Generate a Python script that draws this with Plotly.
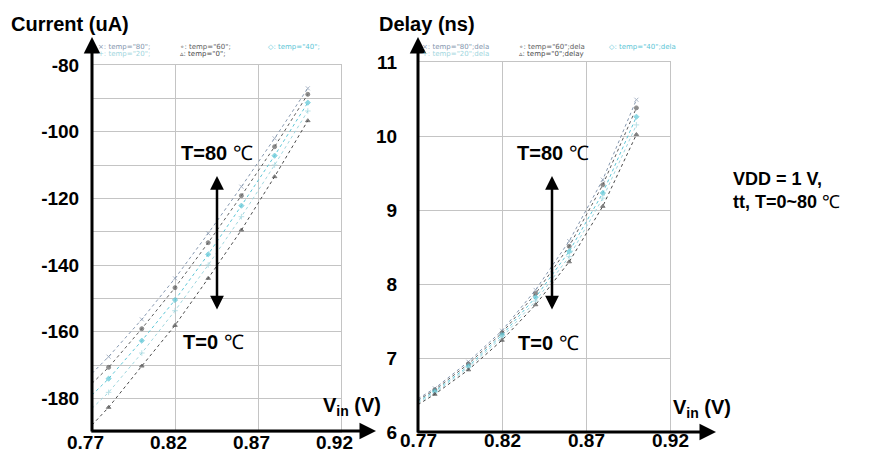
import plotly.graph_objects as go

# page body has an 8px margin; figure is offset by it inside the 872x455 window
OFF = 8
W, H = 872 - 2 * OFF, 455 - OFF

# ---- data ----
vin = [0.77, 0.78, 0.80, 0.82, 0.84, 0.86, 0.88, 0.90]
temps = ["80", "60", "40", "20", "0"]
current_80 = [-172.5, -167.5, -156.3, -144.0, -130.5, -116.5, -102.0, -87.0]
current_60 = [-175.5, -170.7, -159.1, -146.8, -133.3, -119.2, -104.5, -88.8]
current_40 = [-179.0, -174.1, -162.7, -150.5, -136.8, -122.2, -107.2, -91.3]
current_20 = [-183.0, -178.2, -166.4, -153.7, -140.0, -125.5, -110.0, -93.8]
current_0 = [-188.0, -182.7, -170.3, -158.1, -144.0, -129.5, -113.5, -96.7]
delay_80 = [6.45, 6.59, 6.95, 7.37, 7.92, 8.58, 9.41, 10.49]
delay_60 = [6.43, 6.57, 6.92, 7.34, 7.87, 8.51, 9.34, 10.38]
delay_40 = [6.41, 6.55, 6.89, 7.31, 7.82, 8.44, 9.23, 10.26]
delay_20 = [6.39, 6.53, 6.87, 7.28, 7.77, 8.37, 9.16, 10.15]
delay_0 = [6.37, 6.51, 6.84, 7.24, 7.72, 8.30, 9.05, 10.02]
x_ticks = [0.77, 0.82, 0.87, 0.92]
x_ticktext = ["0.77", "0.82", "0.87", "0.92"]
current_ticks = [-180, -160, -140, -120, -100, -80]
current_ticktext = ["-180", "-160", "-140", "-120", "-100", "-80"]
delay_ticks = [6, 7, 8, 9, 10, 11]
delay_ticktext = ["6", "7", "8", "9", "10", "11"]

currents = [current_80, current_60, current_40, current_20, current_0]
delays = [delay_80, delay_60, delay_40, delay_20, delay_0]
colors = ["#8496ae", "#5e5e5e", "#5cc6d6", "#9fd6de", "#4a4a4a"]
symbols = ["x-thin", "circle", "diamond", "cross-thin", "triangle-up"]

FONT = "Liberation Sans"


def px(x):
    return (x - OFF) / W


def py(y):
    return 1 - (y - OFF) / H


fig = go.Figure()
msize = [0] + [4] * (len(vin) - 1)
for t, cur, dl, c, s in zip(temps, currents, delays, colors, symbols):
    fig.add_trace(go.Scatter(
        x=vin, y=cur, xaxis="x", yaxis="y", mode="lines+markers",
        name=f'temp="{t}"', showlegend=False,
        line=dict(color=c, width=1, dash="dot"),
        marker=dict(color=c, size=msize, symbol=s, line=dict(color=c, width=1)),
    ))
    fig.add_trace(go.Scatter(
        x=vin, y=dl, xaxis="x2", yaxis="y2", mode="lines+markers",
        name=f'temp="{t}";delay', showlegend=False,
        line=dict(color=c, width=1, dash="dot"),
        marker=dict(color=c, size=msize, symbol=s, line=dict(color=c, width=1)),
    ))

grid = "#c4c4c4"
tickfont = dict(family=FONT, size=19, color="black", weight="bold")

common_x = dict(
    range=[0.77, 0.92], tickvals=x_ticks, ticktext=x_ticktext,
    showgrid=True, gridcolor=grid, gridwidth=1, zeroline=False,
    showline=True, mirror=True, linecolor=grid, linewidth=1,
    ticks="", showticklabels=False, automargin=False,
)

fig.update_layout(
    width=W, height=H,
    margin=dict(l=0, r=0, t=0, b=0),
    paper_bgcolor="white", plot_bgcolor="white",
    showlegend=False,
    xaxis=dict(domain=[px(92), px(341)], anchor="y", **common_x),
    yaxis=dict(domain=[py(431.7), py(65)], anchor="x", range=[-190, -80],
               tickvals=current_ticks, ticktext=current_ticktext,
               showgrid=True, gridcolor=grid, automargin=False,
               zeroline=False, showline=True, mirror=True, linecolor=grid,
               ticks="", tickfont=tickfont, ticklabelstandoff=8,
               minor=dict(dtick=10, tick0=-80, showgrid=True, gridcolor=grid, ticks="")),
    xaxis2=dict(domain=[px(418), px(670)], anchor="y2", **common_x),
    yaxis2=dict(domain=[py(432), py(62)], anchor="x2", range=[6, 11],
                tickvals=delay_ticks, ticktext=delay_ticktext,
                showgrid=True, gridcolor=grid, automargin=False,
                zeroline=False, showline=True, mirror=True, linecolor=grid,
                ticks="", tickfont=tickfont, ticklabelstandoff=16, ticklabelshift=0),
)

ann = []

# x tick labels placed on the x axes' own scales
for xref, ycen, shift in (("x", 442, -7), ("x2", 440, 0)):
    for v, txt in zip(x_ticks, x_ticktext):
        ann.append(dict(
            xref=xref, yref="paper", x=v, y=py(ycen), text=f"<b>{txt}</b>",
            showarrow=False, xanchor="center", yanchor="middle", xshift=shift,
            font=dict(family=FONT, size=19, color="black"),
        ))


def arrow(x_tip, y_tip, x_tail, y_tail, width=3, side="end"):
    ann.append(dict(
        xref="paper", yref="paper", x=px(x_tip), y=py(y_tip),
        axref="pixel", ayref="pixel", ax=x_tail - x_tip, ay=y_tail - y_tip,
        text="", showarrow=True, arrowhead=2, arrowsize=1.1,
        arrowwidth=width, arrowcolor="black", arrowside=side,
    ))


# axes with arrows
arrow(92, 37, 92, 433)
arrow(376, 431, 90, 431)
arrow(418, 37, 418, 434)
arrow(716, 432, 416, 432)
# temperature arrows
arrow(217, 176, 217, 311, width=2.5, side="end+start")
arrow(552, 176, 552, 311, width=2.5, side="end+start")


def label(text, x, y, size=20, xanchor="center", color="black", family=FONT):
    ann.append(dict(
        xref="paper", yref="paper", x=px(x), y=py(y), text=text,
        showarrow=False, xanchor=xanchor, yanchor="middle",
        font=dict(family=family, size=size, color=color), align="left",
    ))


label("<b>Current (uA)</b>", 9, 24, size=20, xanchor="left")
label("<b>Delay (ns)</b>", 377, 24, size=20, xanchor="left")
label("<b>V<sub>in</sub> (V)</b>", 321, 406, size=20, xanchor="left")
label("<b>V<sub>in</sub> (V)</b>", 671, 408, size=20, xanchor="left")
label("<b>T=80</b> ℃", 217, 153, size=20)
label("<b>T=0</b> ℃", 213, 342, size=20)
label("<b>T=80</b> ℃", 553, 153, size=20)
label("<b>T=0</b> ℃", 548, 343, size=20)
label("<b>VDD = 1 V,</b><br><b>tt, T=0~80</b> ℃", 731, 191, size=18, xanchor="left")

# tiny legend texts
leg_font = 7
left_leg = [(f'×: temp="{temps[0]}";', 96, 47, colors[0]),
            (f'∘: temp="{temps[1]}";', 178, 47, colors[1]),
            (f'◇: temp="{temps[2]}";', 266, 47, colors[2]),
            (f'+: temp="{temps[3]}";', 96, 54, colors[3]),
            (f'▵: temp="{temps[4]}";', 178, 54, colors[4])]
right_leg = [(f'×: temp="{temps[0]}";dela', 420, 47, colors[0]),
             (f'∘: temp="{temps[1]}";dela', 517, 47, colors[1]),
             (f'◇: temp="{temps[2]}";dela', 607, 47, colors[2]),
             (f'+: temp="{temps[3]}";dela', 420, 54, colors[3]),
             (f'▵: temp="{temps[4]}";delay', 517, 54, colors[4])]
for t, x, y, c in left_leg + right_leg:
    label(t, x, y, size=leg_font, xanchor="left", color=c, family="DejaVu Sans")

fig.update_layout(annotations=ann)
fig.write_html("out.html")
